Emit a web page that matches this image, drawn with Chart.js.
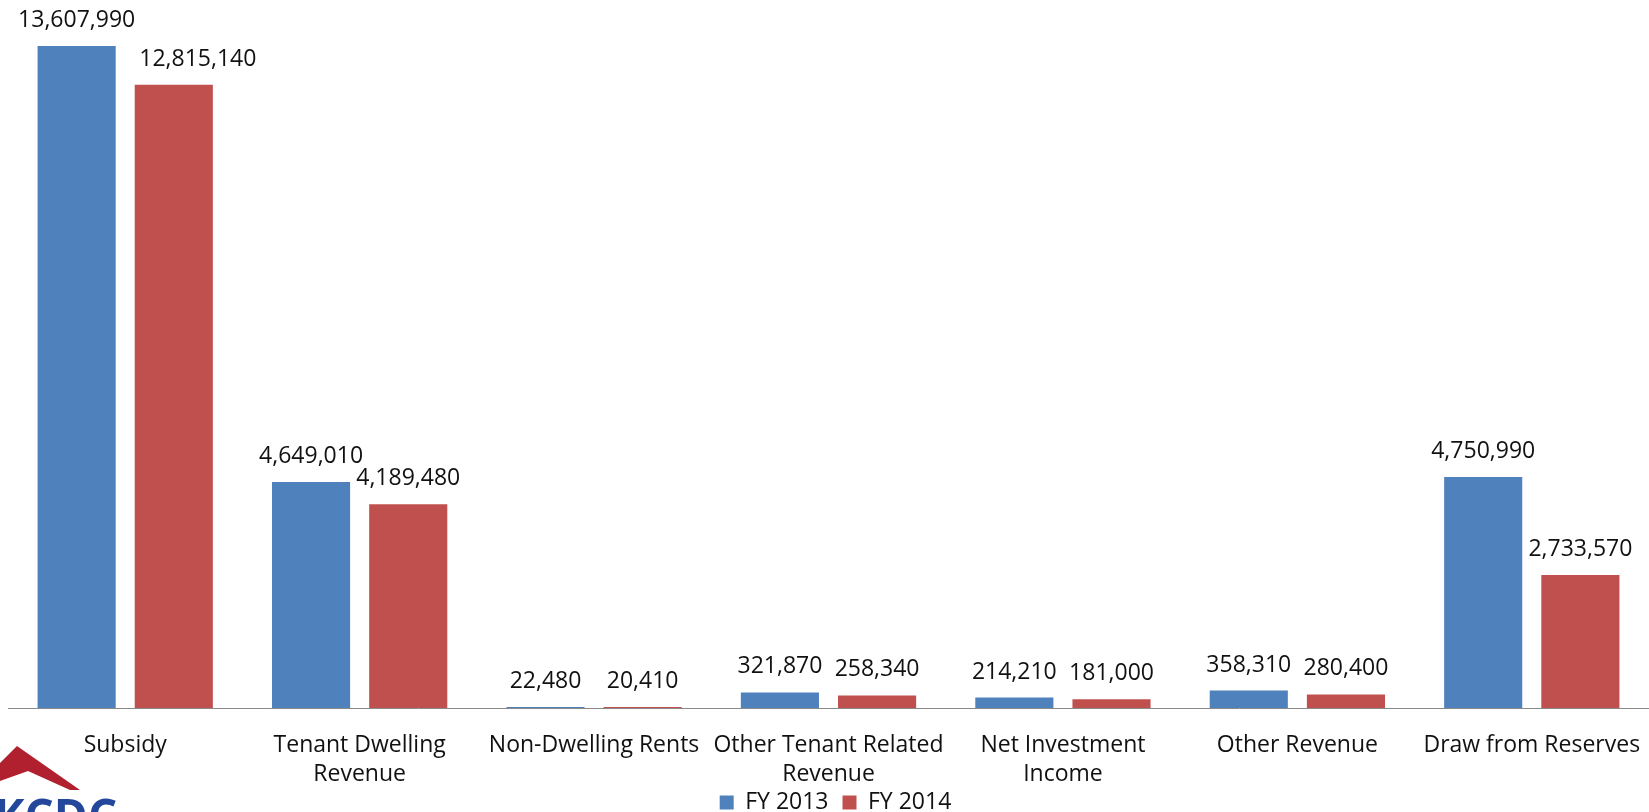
<!DOCTYPE html>
<html>
<head>
<meta charset="utf-8">
<script src="https://cdn.jsdelivr.net/npm/chart.js@4"></script>
<style>
  html, body { margin: 0; padding: 0; background: #ffffff; }
  #wrap { width: 1649px; height: 812px; position: relative; }
</style>
</head>
<body>
<div id="wrap"><canvas id="revenue"></canvas></div>
<script>
// Revenue sources by fiscal year
const categories = [
  'Subsidy',
  ['Tenant Dwelling', 'Revenue'],
  'Non-Dwelling Rents',
  ['Other Tenant Related', 'Revenue'],
  ['Net Investment', 'Income'],
  'Other Revenue',
  'Draw from Reserves'
];
const fy2013 = [13607990, 4649010, 22480, 321870, 214210, 358310, 4750990];
const fy2014 = [12815140, 4189480, 20410, 258340, 181000, 280400, 2733570];
const seriesNames = ['FY 2013', 'FY 2014'];

const FONT = "'Open Sans', 'Liberation Sans', sans-serif";
const fmt = new Intl.NumberFormat('en-US');

// Horizontal nudges for value labels that would crowd a neighbour
// (key: "datasetIndex:categoryIndex", value in pixels)
const labelNudgeX = { '1:0': 24 };

// Value labels above every bar
const valueLabels = {
  id: 'valueLabels',
  afterDatasetsDraw(chart) {
    const ctx = chart.ctx;
    ctx.save();
    ctx.font = '23px ' + FONT;
    ctx.fillStyle = '#111111';
    ctx.textAlign = 'center';
    ctx.textBaseline = 'alphabetic';
    chart.data.datasets.forEach((ds, i) => {
      chart.getDatasetMeta(i).data.forEach((bar, j) => {
        const dx = labelNudgeX[i + ':' + j] || 0;
        ctx.fillText(fmt.format(ds.data[j]), bar.x + dx, bar.y - 19);
      });
    });
    ctx.restore();
  }
};

// Corner logo mark: red roof and blue lettering running off the bottom edge
const cornerLogo = {
  id: 'cornerLogo',
  afterDraw(chart) {
    const ctx = chart.ctx;
    ctx.save();
    ctx.fillStyle = '#b0202e';
    ctx.beginPath();
    ctx.moveTo(0, 763);
    ctx.lineTo(17, 746);
    ctx.lineTo(80, 790);
    ctx.lineTo(70, 790);
    ctx.lineTo(28, 771);
    ctx.lineTo(0, 781);
    ctx.closePath();
    ctx.fill();
    ctx.fillStyle = '#23479a';
    ctx.font = 'bold 46px ' + FONT;
    ctx.textAlign = 'left';
    ctx.textBaseline = 'alphabetic';
    ctx.fillText('KCDC', -6, 832);
    ctx.restore();
  }
};

// Reserve less room for the legend so it tucks under the category labels,
// then give it back its full box for drawing, nudged slightly right of centre
const LEGEND_TRIM = 47;
const LEGEND_LIFT = 35;
const legendTweak = {
  id: 'legendTweak',
  beforeLayout(chart) {
    const lg = chart.legend;
    if (lg && !lg._trimmed) {
      lg._trimmed = true;
      const baseFit = lg.fit;
      lg.fit = function () {
        baseFit.call(this);
        this._fullHeight = this.height;
        this.height = Math.max(0, this.height - LEGEND_TRIM);
      };
    }
  },
  afterLayout(chart) {
    const lg = chart.legend;
    if (lg) {
      lg.left += 7;
      lg.right += 7;
      lg.top -= LEGEND_LIFT;
      lg.height = lg._fullHeight;
      lg.bottom = lg.top + lg._fullHeight;
    }
  }
};

Chart.defaults.font.family = FONT;
Chart.defaults.color = '#111111';

new Chart(document.getElementById('revenue'), {
  type: 'bar',
  data: {
    labels: categories,
    datasets: [
      { label: seriesNames[0], data: fy2013, backgroundColor: '#4f81bd', borderColor: '#4f81bd', borderWidth: 0 },
      { label: seriesNames[1], data: fy2014, backgroundColor: '#c0504d', borderColor: '#c0504d', borderWidth: 0 }
    ]
  },
  options: {
    responsive: true,
    maintainAspectRatio: false,
    animation: false,
    devicePixelRatio: 1,
    layout: { padding: { left: 8, right: 0, top: 27, bottom: 0 } },
    datasets: {
      bar: { categoryPercentage: 0.829, barPercentage: 0.804 }
    },
    scales: {
      x: {
        grid: { display: false, drawTicks: false },
        border: { display: true, color: '#8a8a8a', width: 1 },
        ticks: {
          font: { size: 23, lineHeight: 1.26 },
          color: '#111111',
          padding: 23,
          maxRotation: 0,
          autoSkip: false
        },
        // category labels fit inside their slots; let the plot run to the edges
        afterFit(scale) {
          scale.paddingLeft = 0;
          scale.paddingRight = 0;
        }
      },
      y: {
        display: false,
        min: 0,
        max: 14000000
      }
    },
    plugins: {
      legend: {
        position: 'bottom',
        labels: {
          boxWidth: 14,
          boxHeight: 14,
          padding: 14,
          font: { size: 23 },
          color: '#111111'
        }
      },
      tooltip: { enabled: false }
    }
  },
  plugins: [valueLabels, cornerLogo, legendTweak]
});
</script>
</body>
</html>
